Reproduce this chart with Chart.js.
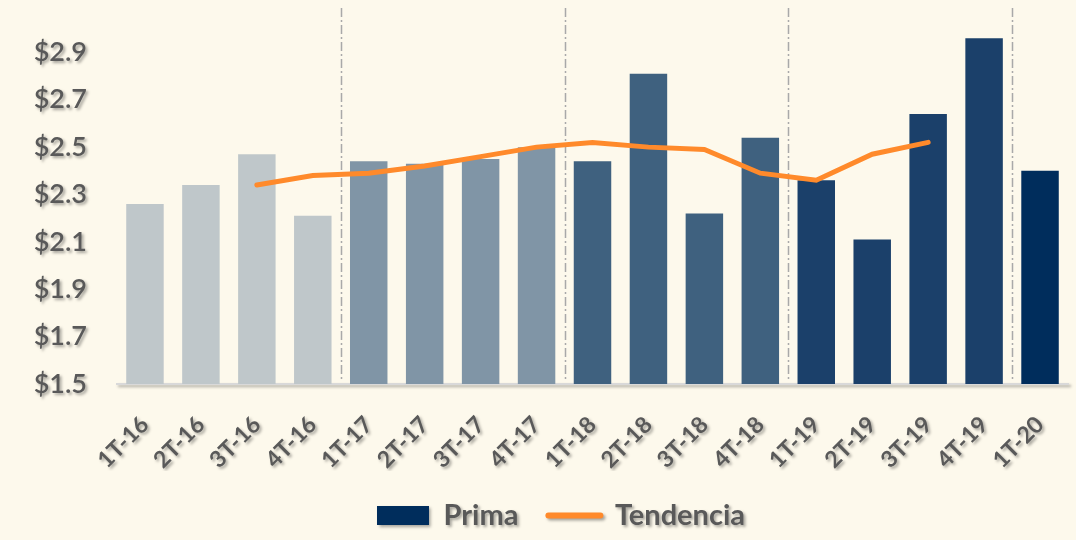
<!DOCTYPE html>
<html>
<head>
<meta charset="utf-8">
<script src="https://cdn.jsdelivr.net/npm/chart.js@4"></script>
<style>
  html, body { margin: 0; padding: 0; background: #FDF9EC; }
  #chart { display: block; }
</style>
</head>
<body>
<canvas id="chart" width="1076" height="540"></canvas>
<script>
// Datos
const trimestres = ['1T-16', '2T-16', '3T-16', '4T-16', '1T-17', '2T-17', '3T-17', '4T-17',
    '1T-18', '2T-18', '3T-18', '4T-18', '1T-19', '2T-19', '3T-19', '4T-19', '1T-20'];
const prima = [2.26, 2.34, 2.47, 2.21, 2.44, 2.43, 2.45, 2.50,
    2.44, 2.81, 2.22, 2.54, 2.36, 2.11, 2.64, 2.96, 2.40];
const tendencia = [null, null, 2.34, 2.38, 2.39, 2.42, 2.46, 2.50,
    2.52, 2.50, 2.49, 2.39, 2.36, 2.47, 2.52, null, null];
const yTicks = [1.5, 1.7, 1.9, 2.1, 2.3, 2.5, 2.7, 2.9];

// Colores por año
const yearColors = {
    '16': '#BFC7CA',
    '17': '#8095A6',
    '18': '#3F617F',
    '19': '#1B406A',
    '20': '#002D5C'
};
const orange = '#FF8A2B';
const textColor = '#595959';

const barColors = trimestres.map(t => yearColors[t.split('-')[1]]);

// Sombra para textos de ejes
const textShadow = {
    id: 'textShadow',
    beforeDraw(chart) {
        const ctx = chart.ctx;
        ctx.save();
        ctx.shadowColor = 'rgba(0,0,0,0.35)';
        ctx.shadowOffsetX = 2;
        ctx.shadowOffsetY = 2;
        ctx.shadowBlur = 3;
    },
    beforeDatasetsDraw(chart) {
        chart.ctx.restore();
    }
};

// Separadores entre años
const yearSeparators = {
    id: 'yearSeparators',
    beforeDatasetsDraw(chart) {
        const ctx = chart.ctx;
        const x = chart.scales.x;
        const area = chart.chartArea;
        ctx.save();
        ctx.strokeStyle = '#A9A9A9';
        ctx.lineWidth = 1.5;
        ctx.setLineDash([9, 3, 2, 3]);
        for (let i = 1; i < trimestres.length; i++) {
            const prev = trimestres[i - 1].split('-')[1];
            const cur = trimestres[i].split('-')[1];
            if (prev !== cur) {
                const px = Math.round((x.getPixelForValue(i - 1) + x.getPixelForValue(i)) / 2) + 0.5;
                ctx.beginPath();
                ctx.moveTo(px, area.top + 3);
                ctx.lineTo(px, area.bottom - 4);
                ctx.stroke();
            }
        }
        ctx.restore();
    }
};

// Leyenda un poco a la derecha del centro, como en el original
const legendShift = {
    id: 'legendShift',
    afterLayout(chart) {
        if (chart.legend) {
            chart.legend.left += 12;
            chart.legend.right += 12;
        }
    }
};

const AXIS_BOTTOM = 384;

new Chart(document.getElementById('chart'), {
    type: 'bar',
    data: {
        labels: trimestres,
        datasets: [{
            type: 'line',
            label: 'Tendencia',
            data: tendencia,
            borderColor: orange,
            backgroundColor: orange,
            borderWidth: 5,
            borderCapStyle: 'round',
            pointRadius: 0,
            tension: 0,
            order: 0
        }, {
            label: 'Prima',
            data: prima,
            backgroundColor: barColors,
            categoryPercentage: 1,
            barPercentage: 0.67,
            order: 1
        }]
    },
    options: {
        responsive: false,
        animation: false,
        layout: { autoPadding: false, padding: { left: 30, right: 8, top: 5, bottom: 0 } },
        plugins: {
            tooltip: { enabled: false },
            legend: {
                position: 'bottom',
                reverse: true,
                labels: {
                    usePointStyle: true,
                    pointStyleWidth: 52,
                    boxHeight: 19,
                    padding: 30,
                    color: textColor,
                    font: { family: 'Lato', size: 29, weight: 'bold' },
                    generateLabels: function(chart) {
                        const items = Chart.defaults.plugins.legend.labels.generateLabels(chart);
                        items.forEach(item => {
                            if (item.text === 'Prima') {
                                item.pointStyle = 'rect';
                                item.fillStyle = yearColors['20'];
                                item.strokeStyle = yearColors['20'];
                                item.lineWidth = 0;
                            } else {
                                item.pointStyle = 'line';
                                item.strokeStyle = orange;
                                item.lineWidth = 6;
                                item.lineCap = 'round';
                            }
                        });
                        return items;
                    }
                }
            }
        },
        scales: {
            x: {
                grid: { display: false, drawTicks: false },
                border: { display: true, color: '#D9D9D9', width: 2 },
                afterFit: function(axis) {
                    const legendH = axis.chart.legend ? axis.chart.legend.height : 0;
                    axis.height = axis.chart.height - legendH - AXIS_BOTTOM;
                    axis.paddingLeft = 0;
                    axis.paddingRight = 0;
                },
                ticks: {
                    color: textColor,
                    minRotation: 45,
                    maxRotation: 45,
                    padding: 27,
                    font: { family: 'Lato', size: 23, weight: 'bold' }
                }
            },
            y: {
                min: 1.5,
                max: 3.1,
                grid: { display: false, drawTicks: false },
                border: { display: false },
                afterFit: function(axis) {
                    axis.width = 87;
                    axis.paddingTop = 0;
                    axis.paddingBottom = 0;
                },
                afterBuildTicks: function(axis) {
                    axis.ticks = yTicks.map(v => ({ value: v }));
                },
                ticks: {
                    color: textColor,
                    padding: 30,
                    font: { family: 'Lato', size: 27, weight: 600 },
                    callback: function(value) {
                        return '$' + Number(value).toFixed(1);
                    }
                }
            }
        }
    },
    plugins: [textShadow, yearSeparators, legendShift]
});
</script>
</body>
</html>
